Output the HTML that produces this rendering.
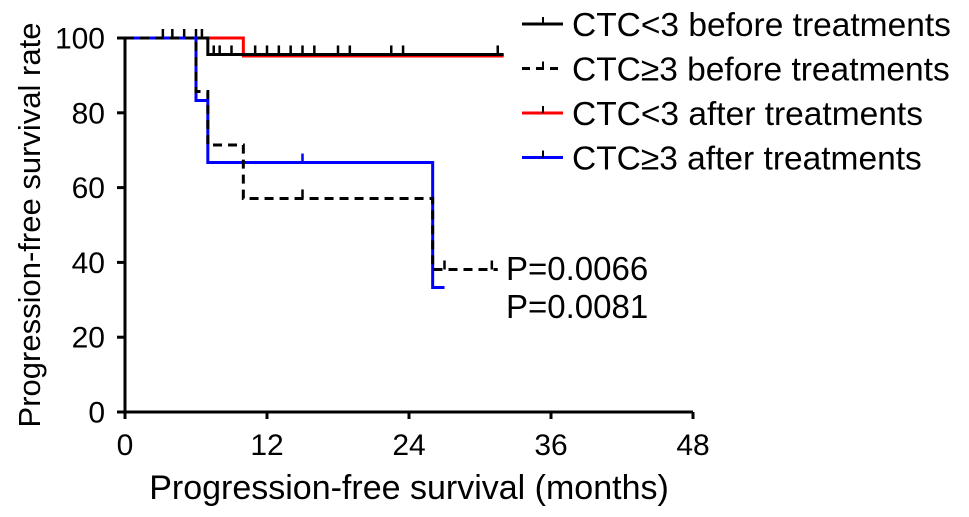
<!DOCTYPE html>
<html><head><meta charset="utf-8"><style>
html,body{margin:0;padding:0;background:#fff;}
svg{display:block;font-family:"Liberation Sans",Arial,sans-serif;}
</style></head><body>
<svg id="chart" width="969" height="517"></svg>
<script>
const xTicks=[0,12,24,36,48];
const yTicks=[0,20,40,60,80,100];
// step survival curves: times (months) and survival values (%)
const blackSolidT=[0,7,32];
const blackSolidS=[100,95.6,95.6];
const blackSolidCens=[3.2,4,5,6,6.5,7.5,8,9,11,12,13,14,15,16,18,19,22.5,23.5,31.5];
const dashedT=[0,6,7,10,26,31.5];
const dashedS=[100,85.7,71.4,57.1,38.1,38.1];
const dashedCens=[15,27,31];
const redT=[0,10,32];
const redS=[100,95.2,95.2];
const blueT=[0,6,7,26,27];
const blueS=[100,83.3,66.7,33.3,33.3];
const blueCens=[15];
const pValues=["P=0.0066","P=0.0081"];

const NS="http://www.w3.org/2000/svg";
const svg=document.getElementById('chart');
const X=m=>125+m*(693-125)/48;
const Y=v=>412-v*(412-38)/100;
function el(tag,attrs,parent){const e=document.createElementNS(NS,tag);for(const k in attrs)e.setAttribute(k,attrs[k]);(parent||svg).appendChild(e);return e;}
function stepPath(T,S){let d=`M${X(T[0])},${Y(S[0])}`;for(let i=1;i<T.length;i++){d+=` H${X(T[i])} V${Y(S[i])}`;}return d;}
function valAt(T,S,t){let v=S[0];for(let i=0;i<T.length;i++)if(T[i]<=t)v=S[i];return v;}

// axes
const ax=el('path',{d:`M125,38 V412 H693`,stroke:'#000','stroke-width':3,fill:'none'});


xTicks.forEach(t=>{
  const l=el('line',{x1:X(t),x2:X(t),y1:412,y2:419,stroke:'#000','stroke-width':3});
  
  
  const tx=el('text',{x:X(t),y:455,'font-size':30,'text-anchor':'middle'});tx.textContent=t;
  
  
});
yTicks.forEach(t=>{
  const l=el('line',{x1:117,x2:125,y1:Y(t),y2:Y(t),stroke:'#000','stroke-width':3});
  
  
  const tx=el('text',{x:105,y:Y(t)+10.5,'font-size':30,'text-anchor':'end'});tx.textContent=t;
  
  
});
const xt=el('text',{x:409,y:499,'font-size':34,'text-anchor':'middle'});xt.textContent='Progression-free survival (months)';


const yt=el('text',{x:0,y:0,'font-size':31,'text-anchor':'middle',transform:'translate(40,225) rotate(-90)'});yt.textContent='Progression-free survival rate';



function curve(T,S,color,dash,name,cens){
  const p=el('path',{d:stepPath(T,S),stroke:color,'stroke-width':3,fill:'none','stroke-dasharray':dash||'none'});
  
  
  (cens||[]).forEach(c=>{
    const y=Y(valAt(T,S,c));
    const m=el('line',{x1:X(c),x2:X(c),y1:y-9,y2:y,stroke:color,'stroke-width':2.5});
    
    
  });
}
curve(redT,redS,'#f00','', 'curve-ctc-lt3-after',[]);
curve(blackSolidT,blackSolidS,'#000','', 'curve-ctc-lt3-before',blackSolidCens);
curve(blueT,blueS,'#00f','', 'curve-ctc-ge3-after',blueCens);
curve(dashedT,dashedS,'#000','9,6', 'curve-ctc-ge3-before',dashedCens);

// p-values
pValues.forEach((p,i)=>{
  const t=el('text',{x:506,y:280+i*38,'font-size':33});t.textContent=p;
  
  
});

// legend
const legend=[['CTC<3 before treatments','#000',''],['CTC\u22653 before treatments','#000','8,6'],['CTC<3 after treatments','#f00',''],['CTC\u22653 after treatments','#00f','']];
legend.forEach((L,i)=>{
  const y=24+i*44.5;
  const ln=el('line',{x1:522,x2:563,y1:y,y2:y,stroke:L[1],'stroke-width':3,'stroke-dasharray':L[2]||'none'});
  
  
  const tk=el('line',{x1:543,x2:543,y1:y-7,y2:y,stroke:'#000','stroke-width':2});
  
  
  const t=el('text',{x:572,y:y+12,'font-size':33.5});t.textContent=L[0];
  
  
});
</script>
</body></html>
